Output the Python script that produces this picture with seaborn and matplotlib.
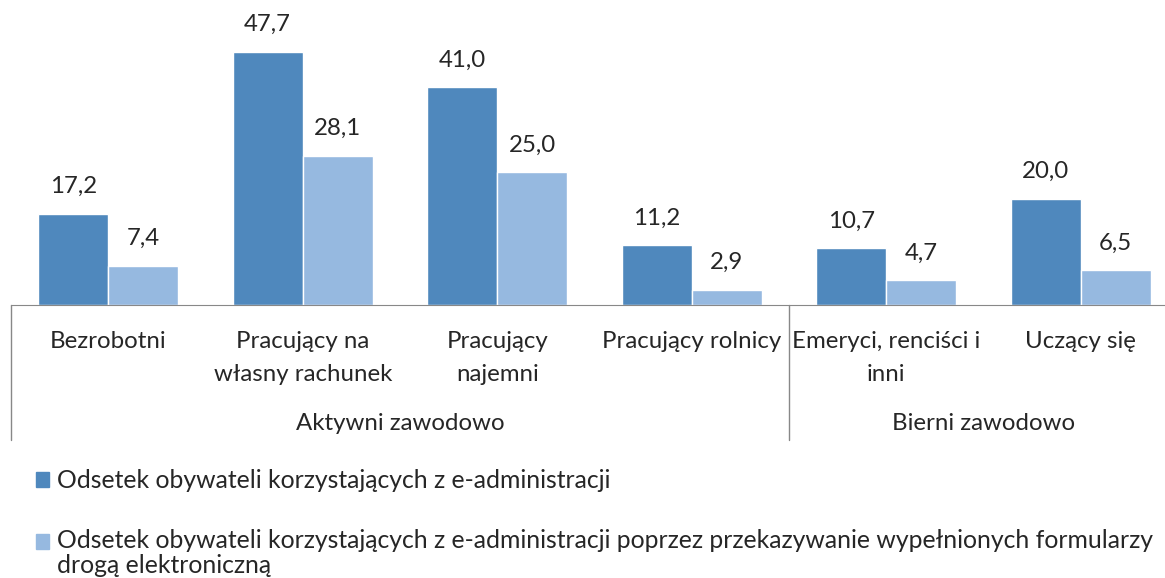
import pandas as pd
import seaborn as sns
import matplotlib.pyplot as plt
import matplotlib.patches as mpatches
from matplotlib.legend_handler import HandlerPatch

# Data
kategorie = ["Bezrobotni", "Pracujący na\nwłasny rachunek", "Pracujący\nnajemni",
             "Pracujący rolnicy", "Emeryci, renciści i\ninni", "Uczący się"]
grupy = ["Aktywni zawodowo", "Bierni zawodowo"]
grupy_zakres = [(0, 3), (4, 5)]
seria1 = "Odsetek obywateli korzystających z e-administracji"
seria2 = ("Odsetek obywateli korzystających z e-administracji poprzez przekazywanie wypełnionych formularzy\n"
          "drogą elektroniczną")
wart1 = [17.2, 47.7, 41.0, 11.2, 10.7, 20.0]
wart2 = [7.4, 28.1, 25.0, 2.9, 4.7, 6.5]
kolory = ["#4F88BD", "#96B9E0"]

df = pd.DataFrame({
    "kat": kategorie * 2,
    "seria": [seria1] * 6 + [seria2] * 6,
    "val": wart1 + wart2,
})

sns.set_style("white")
plt.rcParams["font.family"] = ["Lato", "DejaVu Sans"]
FS = 17.3

fig = plt.figure(figsize=(11.65, 5.78), dpi=100)
ax = fig.add_axes([11 / 1165, 273 / 578, 1167 / 1165, 305 / 578])

sns.barplot(data=df, x="kat", y="val", hue="seria", palette=kolory,
            width=0.72, saturation=1, ax=ax, order=kategorie)

ax.set_xlim(-0.5, 5.5)
ax.set_ylim(0, 57.4)
ax.set_xlabel("")
ax.set_ylabel("")
ax.set_yticks([])
for s in ["top", "right", "left"]:
    ax.spines[s].set_visible(False)
ax.spines["bottom"].set_color("#888888")
ax.tick_params(axis="x", length=0, pad=19, labelsize=FS)
for t in ax.get_xticklabels():
    t.set_linespacing(1.68)

# value labels with decimal comma
for cont in ax.containers:
    ax.bar_label(cont, labels=[f"{b.get_height():.1f}".replace(".", ",") for b in cont],
                 padding=12, fontsize=FS)

# group labels and separators
for g, (a, b) in zip(grupy, grupy_zakres):
    ax.annotate(g, xy=((a + b) / 2, 0), xycoords=("data", "axes fraction"),
                xytext=(0, -119 * 0.72), textcoords="offset points",
                ha="center", va="center", fontsize=FS)
trans = ax.get_xaxis_transform()
for xs in [-0.5, 3.5]:
    ax.plot([xs, xs], [0, -135 / 305], transform=trans, color="#888888",
            lw=1, clip_on=False)

# legend (square of the two-line entry sits at the first line)
ax.legend_.remove()
h1 = mpatches.Patch(color=kolory[0])
h2 = mpatches.Patch(color=kolory[1])


def first_line_square(legend, orig_handle, xdescent, ydescent, width, height, fontsize):
    return mpatches.Rectangle((-xdescent, -ydescent + 12.5 * 0.72), width, height)


leg = fig.legend([h1, h2], [seria1, seria2], loc="upper left",
                 bbox_to_anchor=(26 / 1165, 1 - 459 / 578),
                 frameon=False, fontsize=17.8, handlelength=0.55, handleheight=0.55,
                 handletextpad=0.3, labelspacing=1.5, borderaxespad=0,
                 handler_map={h2: HandlerPatch(patch_func=first_line_square)})
for t in leg.get_texts():
    t.set_linespacing(1.12)

fig.savefig("out.png", dpi=100)
